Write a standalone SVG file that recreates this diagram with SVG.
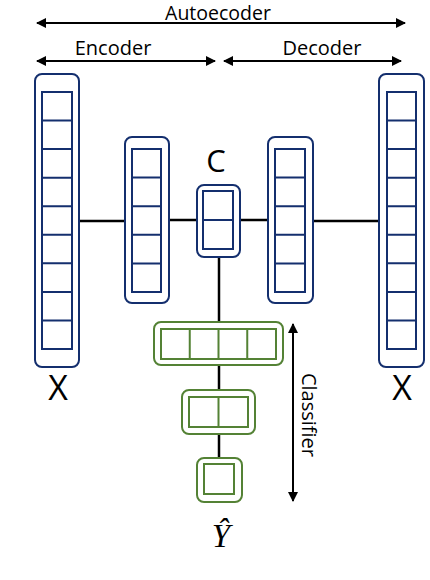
<svg xmlns="http://www.w3.org/2000/svg" width="430" height="580" viewBox="0 0 430 580">
<style>
.bo{fill:#fff;stroke:#142f6e;stroke-width:2}
.bi{fill:#fff;stroke:#142f6e;stroke-width:2}
.bc{stroke:#142f6e;stroke-width:2}
.go{fill:#fff;stroke:#548235;stroke-width:2}
.gi{fill:#fff;stroke:#548235;stroke-width:2}
.gc{stroke:#548235;stroke-width:2}
.ln{stroke:#000;stroke-width:2.5;fill:none}
.ar{stroke:#000;stroke-width:2;fill:none}
.t{font-family:"Open Sans","Liberation Sans",sans-serif;fill:#000}
</style>
<defs>
<marker id="ah" viewBox="0 0 10 10" refX="9" refY="5" markerWidth="5" markerHeight="5" orient="auto-start-reverse">
<path d="M0,0 L10,5 L0,10 z" fill="#000"/>
</marker>
</defs>
<g id="labels">
<text class="t" x="218" y="20" font-size="19.5" text-anchor="middle">Autoecoder</text>
<text class="t" x="113" y="55" font-size="20" text-anchor="middle">Encoder</text>
<text class="t" x="322" y="55" font-size="20" text-anchor="middle">Decoder</text>
<text class="t" x="216" y="172" font-size="31" text-anchor="middle">C</text>
<text class="t" x="58" y="400" font-size="34" text-anchor="middle">X</text>
<text class="t" x="402" y="400" font-size="34" text-anchor="middle">X</text>
<text x="221" y="547" font-size="33" font-style="italic" font-family="Liberation Serif,serif" text-anchor="middle">Ŷ</text>
<text class="t" x="0" y="0" font-size="20" text-anchor="middle" transform="translate(302,415) rotate(90)">Classifier</text>
</g>
<g id="connectors">
<line class="ar" x1="37" y1="23" x2="405" y2="23" marker-start="url(#ah)" marker-end="url(#ah)"/>
<line class="ar" x1="37" y1="61" x2="215" y2="61" stroke-width="1.6" marker-start="url(#ah)" marker-end="url(#ah)"/>
<line class="ar" x1="224" y1="61" x2="401" y2="61" stroke-width="1.6" marker-start="url(#ah)" marker-end="url(#ah)"/>
<line class="ar" x1="293" y1="324" x2="293" y2="501" stroke-width="1.6" marker-start="url(#ah)" marker-end="url(#ah)"/>
<line class="ln" x1="79" y1="221" x2="125" y2="221"/>
<line class="ln" x1="169" y1="220" x2="197" y2="220"/>
<line class="ln" x1="240" y1="220" x2="268" y2="220"/>
<line class="ln" x1="313" y1="221" x2="379" y2="221"/>
<line class="ln" x1="219" y1="257" x2="219" y2="322"/>
<line class="ln" x1="219" y1="365" x2="219" y2="390"/>
<line class="ln" x1="219" y1="434" x2="219" y2="458"/>
</g>
<g id="input-x">
<rect class="bo" x="35" y="74" width="44" height="293" rx="7"/>
<rect class="bi" x="42" y="92" width="30" height="257"/>
<path class="bc" d="M42,120.6H72M42,149.1H72M42,177.7H72M42,206.2H72M42,234.8H72M42,263.3H72M42,291.9H72M42,320.4H72"/>
</g>
<g id="encoder">
<rect class="bo" x="125" y="137" width="44" height="166" rx="7"/>
<rect class="bi" x="132" y="149" width="29" height="143"/>
<path class="bc" d="M132,177.6H161M132,206.2H161M132,234.8H161M132,263.4H161"/>
</g>
<g id="code-c">
<rect class="bo" x="197" y="185" width="43" height="72" rx="7"/>
<rect class="bi" x="203" y="191" width="30" height="58"/>
<path class="bc" d="M203,220H233"/>
</g>
<g id="decoder">
<rect class="bo" x="268" y="137" width="45" height="166" rx="7"/>
<rect class="bi" x="275" y="149" width="30" height="143"/>
<path class="bc" d="M275,177.6H305M275,206.2H305M275,234.8H305M275,263.4H305"/>
</g>
<g id="output-x">
<rect class="bo" x="379" y="74" width="45" height="293" rx="7"/>
<rect class="bi" x="387" y="92" width="29" height="257"/>
<path class="bc" d="M387,120.6H416M387,149.1H416M387,177.7H416M387,206.2H416M387,234.8H416M387,263.3H416M387,291.9H416M387,320.4H416"/>
</g>
<g id="classifier-1">
<rect class="go" x="154" y="322" width="129" height="43" rx="7"/>
<rect class="gi" x="161" y="329" width="115" height="30"/>
<path class="gc" d="M189.75,329V359M218.5,329V359M247.25,329V359"/>
</g>
<g id="classifier-2">
<rect class="go" x="182" y="390" width="73" height="44" rx="7"/>
<rect class="gi" x="189" y="397" width="59" height="30"/>
<path class="gc" d="M218.5,397V427"/>
</g>
<g id="output-y">
<rect class="go" x="197" y="458" width="45" height="44" rx="7"/>
<rect class="gi" x="204" y="464" width="30" height="30"/>
</g>
</svg>
